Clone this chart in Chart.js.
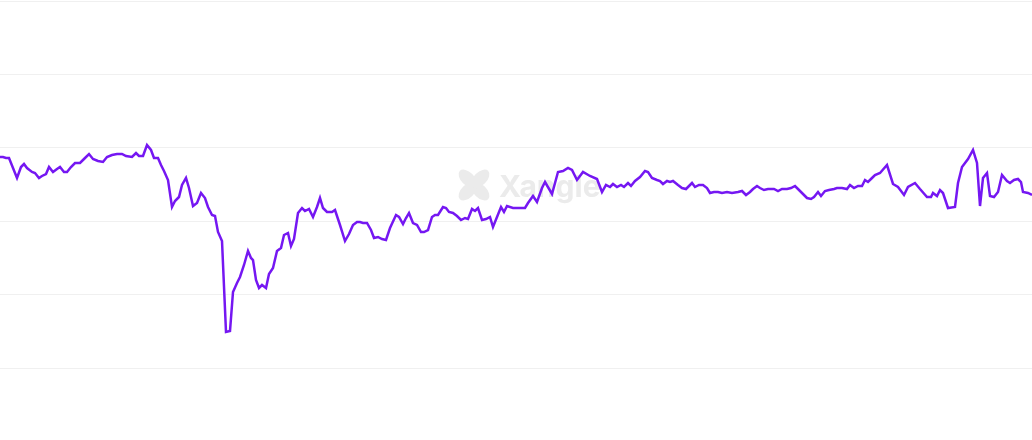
<!DOCTYPE html>
<html>
<head>
<meta charset="utf-8">
<script src="https://cdn.jsdelivr.net/npm/chart.js@4"></script>
<style>
html,body{margin:0;padding:0;background:#fff;}
#wrap{width:1032px;height:440px;}
</style>
</head>
<body>
<div id="wrap"><canvas id="c" width="1032" height="440"></canvas></div>
<script>
const times = [0,3,6,9,17,21,24,27,32,35,39,42,46,49,53,57,60,64,67,71,75,80,84,89,93,98,103,107,112,117,122,126,132,136,139,143,147,151,154,158,161,164,168,172,175,179,182,186,189,193,197,201,205,208,212,215,218,222,226,230,233,237,240,244,248,251,253,256,259,262,266,269,273,277,281,284,288,291,294,298,302,305,309,313,317,320,323,327,332,335,340,345,349,353,357,360,363,367,371,374,378,382,386,390,396,399,403,406,409,413,417,421,424,428,432,435,438,443,446,449,453,457,461,465,468,472,475,478,482,486,490,493,497,501,504,507,513,518,525,528,533,537,542,545,552,558,563,568,572,577,583,590,597,602,606,610,613,617,621,624,628,631,635,640,645,648,652,657,660,663,667,670,673,678,682,686,688,692,695,699,703,707,710,714,718,722,727,732,738,742,746,750,753,757,760,764,768,774,778,782,787,791,795,798,803,807,811,814,818,821,825,829,834,837,842,847,850,854,858,862,865,868,872,875,880,887,893,898,904,908,915,920,927,931,933,937,940,943,948,955,958,962,968,973,977,980,983,987,990,994,998,1002,1007,1010,1014,1018,1021,1023,1028,1032];
const values = [283,283,282,282,262,273,276,272,268,267,262,264,266,273,268,271,273,268,268,273,277,277,281,286,281,279,278,283,285,286,286,284,283,287,284,284,295,290,282,282,275,269,260,233,239,243,255,262,252,234,237,247,242,233,225,224,208,199,108,109,148,157,163,175,189,182,180,160,152,155,152,166,172,189,192,205,207,194,201,227,232,229,231,223,233,242,232,228,228,230,215,199,206,215,218,218,217,217,210,202,203,201,200,212,225,223,216,222,227,217,215,208,208,210,223,225,225,233,232,228,227,224,220,222,221,231,229,232,220,221,223,213,223,233,228,234,232,232,232,237,244,238,252,258,246,268,269,272,270,260,268,264,261,248,255,253,256,253,255,253,257,254,259,263,269,268,262,260,259,256,259,258,259,255,252,251,253,257,253,255,255,252,247,248,248,247,248,247,248,249,245,248,251,254,252,250,251,251,249,251,251,252,254,251,246,242,241,243,248,244,249,250,251,252,252,251,255,252,254,254,260,258,262,265,267,275,256,253,245,253,257,251,243,243,247,244,250,247,232,233,257,273,281,290,277,234,262,267,244,243,248,265,259,257,260,261,258,248,247,245];
const gridValues = [72,145.4,218.8,292.2,365.6,439];
const watermarkText = "Xangle";

const points = times.map((t,i)=>({x:t,y:values[i]}));

const watermark = {
  id:'watermark',
  beforeDatasetsDraw(chart){
    const ctx = chart.ctx;
    ctx.save();
    ctx.fillStyle = '#ebebeb';
    const cx = 474, cy = 185;
    for (let k=0;k<4;k++){
      const a = Math.PI/4 + k*Math.PI/2;
      ctx.save();
      ctx.translate(cx + Math.cos(a)*9, cy + Math.sin(a)*9);
      ctx.rotate(a);
      ctx.beginPath();
      ctx.ellipse(0,0,11,6.5,0,0,Math.PI*2);
      ctx.fill();
      ctx.restore();
    }
    ctx.font = 'bold 30px Inter, "Noto Sans", sans-serif';
    ctx.textBaseline = 'alphabetic';
    ctx.fillText(watermarkText, 499, 197);
    ctx.restore();
  }
};

new Chart(document.getElementById('c'), {
  type:'line',
  data:{datasets:[{
    data:points,
    borderColor:'#7517f2',
    borderWidth:2.5,
    pointRadius:0,
    tension:0,
    fill:false
  }]},
  options:{
    responsive:false,
    animation:false,
    layout:{padding:0},
    plugins:{legend:{display:false},tooltip:{enabled:false}},
    scales:{
      x:{type:'linear',min:0,max:1032,display:false},
      y:{
        min:0,max:440,
        afterBuildTicks(scale){ scale.ticks = gridValues.map(v=>({value:v})); },
        ticks:{display:false},
        border:{display:false},
        grid:{color:'#f0f0f0',lineWidth:1,drawTicks:false}
      }
    }
  },
  plugins:[watermark]
});
</script>
</body>
</html>
